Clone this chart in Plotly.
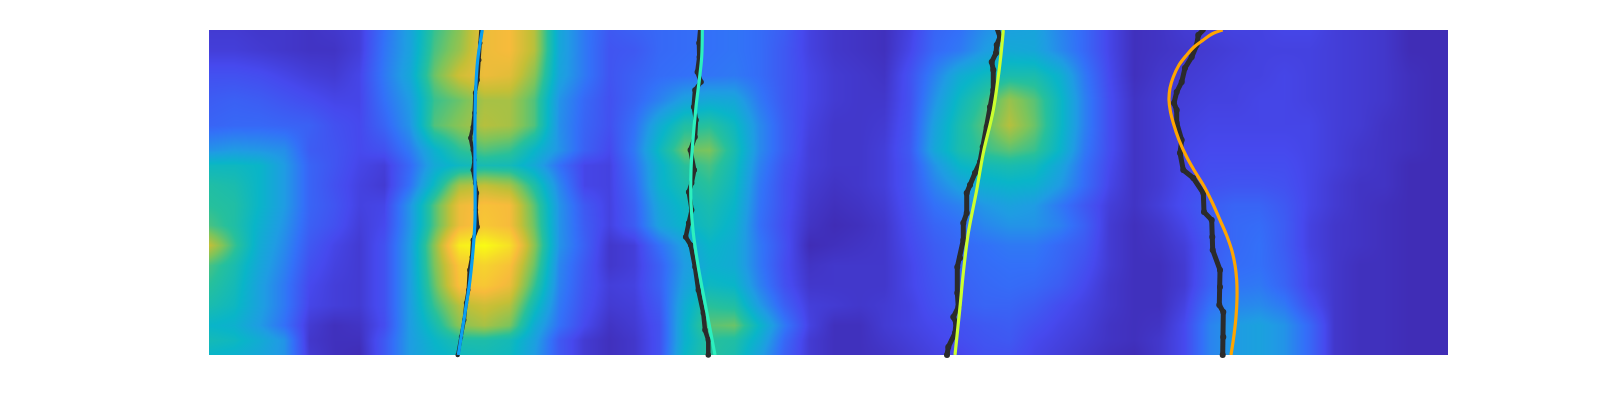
import plotly.graph_objects as go

col_pos = [25 * k for k in range(50)] + [1239]
row_pos = [0, 20, 45, 70, 95, 120, 135, 155, 175, 195, 215, 235, 255, 275, 295, 310, 325]

intensity = [
 [6,6,5,5,4,5,7, 20,32,52,62,78,80,68,34,22, 14,16,18,19,20,21,19,15, 8,5,4,3,8,17,20,27,32,33,25,18,9, 3,4,6,7,8,8,9,9,7,6,5,2,2,2],
 [7,7,6,5,4,4,7, 21,32,54,64,78,80,68,34,22, 13,14,18,19,20,21,19,14, 8,5,4,3,9,18,22,30,35,34,26,18,9, 3,4,5,6,7,8,8,8,7,6,5,2,2,2],
 [12,12,11,9,7,6,9, 22,34,58,72,78,76,62,33,22, 13,16,19,20,21,22,19,14, 9,6,5,4,12,24,36,42,46,46,38,22,10, 3,5,6,7,8,8,9,8,7,6,5,3,2,2],
 [15,16,15,13,11,9,9, 20,30,52,58,66,66,55,28,18, 12,17,24,32,35,34,22,14, 9,6,5,5,12,28,42,52,64,56,42,24,11, 4,6,7,8,8,9,9,8,7,6,5,3,2,2],
 [17,18,18,17,16,12,10, 17,28,55,62,68,66,55,27,17, 12,20,36,48,50,42,26,15, 8,5,5,6,13,32,46,56,68,58,42,24,11, 4,6,8,9,9,9,9,9,7,6,4,3,2,2],
 [28,30,29,27,15,13,10, 12,22,38,50,55,52,40,28,16, 10,22,42,58,60,46,26,15, 7,5,5,7,14,34,46,52,56,52,40,22,11, 4,6,9,10,10,10,10,9,7,5,4,3,2,2],
 [42,42,40,30,17,13,9, 7,18,35,42,45,44,35,20,9, 8,20,38,50,54,44,24,13, 7,5,5,7,13,28,40,44,46,44,34,20,10, 4,6,9,11,11,11,11,9,7,5,4,2,2,2],
 [48,46,40,30,17,12,8, 6,20,42,66,70,66,48,25,9, 8,18,38,46,50,42,22,12, 6,4,5,7,13,24,32,37,39,38,30,19,9, 4,6,10,12,13,13,12,9,6,4,4,2,2,2],
 [50,48,40,30,17,13,8, 9,28,55,78,82,80,56,28,14, 8,16,34,42,46,40,21,12, 5,3,4,6,12,20,24,29,32,30,22,14,7, 4,7,11,15,17,17,14,9,6,4,3,2,2,2],
 [54,48,38,28,16,12,7, 10,28,55,78,84,80,58,28,15, 8,15,32,40,44,38,20,11, 4,2,3,5,11,17,20,25,28,28,24,16,6, 3,5,9,15,18,19,15,8,5,4,3,2,2,2],
 [70,52,36,26,14,9,6, 12,30,62,96,100,92,62,28,16, 5,7,20,32,40,36,22,12, 2,3,4,5,10,15,18,20,22,22,18,14,6, 3,4,7,14,18,20,15,8,5,4,3,2,2,2],
 [54,46,34,24,12,8,6, 12,30,60,84,88,82,58,25,14, 5,7,16,30,38,36,22,11, 4,5,5,5,9,14,17,19,20,20,17,12,6, 3,3,6,15,19,20,16,9,5,3,3,2,2,2],
 [50,44,32,22,10,7,6, 12,30,57,82,84,78,52,24,13, 7,8,16,32,42,40,24,12, 5,5,5,5,9,13,16,18,19,18,15,10,5, 3,3,6,16,21,22,17,9,5,3,3,2,2,2],
 [46,42,32,22,9,7,6, 12,30,52,68,72,68,44,22,12, 6,7,14,36,50,48,30,16, 7,6,5,6,8,12,15,17,17,15,11,8,5, 3,3,8,20,25,26,22,12,5,3,3,2,2,2],
 [40,38,30,20,6,3,4, 11,30,45,62,66,60,36,20,10, 4,6,12,38,56,58,40,22, 8,3,3,6,8,10,12,14,15,12,9,7,4, 3,4,10,24,30,32,28,18,5,3,3,2,2,2],
 [44,42,36,28,5,3,3, 14,30,40,47,47,44,32,14,6, 3,5,12,38,50,48,36,18, 6,3,3,5,7,9,11,13,14,10,8,6,4, 3,5,10,24,30,32,28,18,5,3,3,2,2,2],
 [40,38,34,28,6,3,2, 14,30,38,42,44,42,30,14,6, 3,5,12,40,50,46,32,16, 6,3,3,4,6,8,9,12,12,9,7,5,3, 2,5,10,24,30,32,28,18,5,3,3,2,2,2],
]
assert all(len(r) == len(col_pos) for r in intensity), [len(r) for r in intensity]
assert len(intensity) == len(row_pos)

parula = [
 [0.0, "#3E26A8"], [0.1, "#4649EE"], [0.2, "#3370F8"], [0.3, "#1F9CE3"],
 [0.4, "#09B5C8"], [0.5, "#26C09C"], [0.6, "#7BC45C"], [0.7, "#C4BF36"],
 [0.8, "#F7BB3B"], [0.9, "#F6D92A"], [1.0, "#F9FB14"],
]

trace1_x = [272,271.3,270.3,268.7,266,265.3,263.7,261.3,263.7,265.3,263.7,266,268,267,268.7,263.7,262.7,260.3,259.3,257,255.3,252,248.7]
trace1_y = [-1,13,30,50,63,83,97,108,120,130,140,153,163,180,197,210,227,240,260,273,290,307,325]
fit1_x = [273.3,268.7,266.7,266,266,266,264.3,261,256,249.3]
fit1_y = [0,30,60,90,140,190,217,250,283,325]

trace2_x = [491.3,490,490.3,488.3,492,486,484.7,487,486,481.3,485.3,482.7,479.7,482.7,479.7,476.7,481.7,486,489.3,494.3,496,499.3,499.3]
trace2_y = [-1,13,27,42,52,60,77,90,107,120,140,153,162,180,193,207,215,237,260,283,300,310,325]
fit2_x = [493.3,492.7,490.3,487,483.7,482,482,484.3,489.3,496,506]
fit2_y = [0,27,50,77,113,140,173,203,237,273,325]

trace3_x = [788.3,791,787.7,787,782.7,784.3,784.3,781,777.7,773.7,771,766,761,757.7,757.7,754.3,754.3,751,748.3,748.3,749.3,744.3,747,746,739.3,738]
trace3_y = [-1,7,15,23,32,40,60,77,97,117,132,143,155,163,183,193,210,228,237,263,277,287,293,303,317,325]
fit3_x = [794.3,791,784.3,774.3,767.7,759.3,754.3,751,746]
fit3_y = [0,33,80,123,160,203,243,277,325]

trace4_x = [995.3,989.3,987.7,982.7,976,972.7,967.7,965,967.7,967.7,972.7,971,974.3,984.3,994.3,995,1002.7,1003.3,1003.7,1011,1011,1010.3,1014.3,1014.3,1013.7]
trace4_y = [-1,5,15,27,38,52,62,73,80,93,110,123,140,148,163,182,190,207,220,240,257,275,282,307,325]
fit4_x = [1013.7,1003,994.3,985,977.7,970,964.3,961,960,961.5,964.3,970,977.7,985,994.3,1003,1011,1017.5,1022.7,1026,1027.7,1028,1027,1025,1022]
fit4_y = [0,4,10,17,25,35,47,58,70,82,93,110,127,140,155,172,190,205,220,235,250,268,287,305,325]

traces = [(trace1_x, trace1_y, 3.5, 4.5), (trace2_x, trace2_y, 4.5, 5.5), (trace3_x, trace3_y, 5, 6), (trace4_x, trace4_y, 5, 6)]
fits = [(fit1_x, fit1_y, "#0A9FF2"), (fit2_x, fit2_y, "#2CF0BE"), (fit3_x, fit3_y, "#CBFF2E"), (fit4_x, fit4_y, "#FFA500")]

fig = go.Figure()
fig.add_trace(go.Heatmap(x=col_pos, y=row_pos, z=intensity, zmin=0, zmax=100,
                         colorscale=parula, zsmooth="best", showscale=False, hoverinfo="skip"))
for tx, ty, w, s in traces:
    fig.add_trace(go.Scatter(x=tx, y=ty, mode="lines+markers", cliponaxis=False,
                             line=dict(color="#2B2B2B", width=w),
                             marker=dict(color="#2B2B2B", size=s), showlegend=False))
for fx, fy, c in fits:
    fig.add_trace(go.Scatter(x=fx, y=fy, mode="lines", cliponaxis=True,
                             line=dict(color=c, width=3.2, shape="spline"), showlegend=False))

fig.update_layout(width=1600, height=400, margin=dict(l=201, r=160, t=22, b=53),
                  paper_bgcolor="white", plot_bgcolor="white", showlegend=False,
                  xaxis=dict(range=[0, 1239], visible=False),
                  yaxis=dict(range=[325, 0], visible=False))
fig.write_html("out.html")
